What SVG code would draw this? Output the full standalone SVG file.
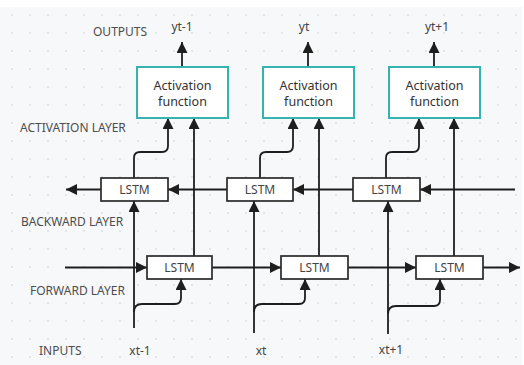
<svg xmlns="http://www.w3.org/2000/svg" width="524" height="365" viewBox="0 0 524 365">
<defs>
<pattern id="dots" x="3" y="6" width="18" height="18" patternUnits="userSpaceOnUse">
<circle cx="9" cy="9" r="0.8" fill="#c9ccd1"/>
</pattern>
<marker id="ah" markerUnits="userSpaceOnUse" markerWidth="11" markerHeight="11" viewBox="0 0 10 10" refX="10" refY="5" orient="auto">
<path d="M0,0 L10,5 L0,10 z" fill="#1e1e1e"/>
</marker>
<style>
.lbl{font-family:"Noto Sans","Open Sans",sans-serif;font-size:12px;fill:#4d4d4d;}
.io{font-family:"Noto Sans","Open Sans",sans-serif;font-size:12px;fill:#444;text-anchor:middle;}
.act rect{fill:#fff;stroke:#35b3b0;stroke-width:2;}
.act text{font-family:"Noto Sans","Open Sans",sans-serif;font-size:12.5px;fill:#333;text-anchor:middle;}
.lstm rect{fill:#fff;stroke:#2a2a2a;stroke-width:1.7;}
.lstm text{font-family:"Noto Sans","Open Sans",sans-serif;font-size:12px;fill:#444;text-anchor:middle;}
#connectors path{fill:none;stroke:#1e1e1e;stroke-width:1.8;}
.ar{marker-end:url(#ah);}
</style>
</defs>
<rect x="0" y="0" width="524" height="365" fill="#ffffff"/>
<rect x="0" y="7" width="522" height="358" fill="#f7f8fa"/>
<rect x="0" y="7" width="522" height="358" fill="url(#dots)"/>

<g id="connectors">
<!-- outputs -->
<path class="ar" d="M182,67 V42"/>
<path class="ar" d="M308,67 V42"/>
<path class="ar" d="M434,67 V42"/>
<!-- backward to activation (curved) -->
<path class="ar" d="M134,178 V158 Q134,152 140,152 H162 Q168,152 168,146 V118"/>
<path class="ar" d="M260,178 V158 Q260,152 266,152 H287 Q293,152 293,146 V118"/>
<path class="ar" d="M386,178 V158 Q386,152 392,152 H413 Q419,152 419,146 V118"/>
<!-- forward to activation (straight) -->
<path class="ar" d="M194,256 V118"/>
<path class="ar" d="M319,256 V118"/>
<path class="ar" d="M454,256 V118"/>
<!-- backward chain -->
<path class="ar" d="M515,189.5 H420"/>
<path class="ar" d="M353,189.5 H293"/>
<path class="ar" d="M227,189.5 H168"/>
<path class="ar" d="M101,189.5 H66"/>
<!-- forward chain -->
<path class="ar" d="M65,267.5 H147"/>
<path class="ar" d="M212,267.5 H281"/>
<path class="ar" d="M348,267.5 H416"/>
<path class="ar" d="M483,267.5 H520"/>
<!-- inputs to backward -->
<path class="ar" d="M134,328 V201"/>
<path class="ar" d="M254,333 V201"/>
<path class="ar" d="M388,334 V201"/>
<!-- inputs to forward -->
<path class="ar" d="M134,312 Q134,304 142,304 H175 Q181,304 181,298 V279"/>
<path class="ar" d="M254,312 Q254,304 262,304 H299 Q305,304 305,298 V279"/>
<path class="ar" d="M388,314 Q388,306 396,306 H434 Q440,306 440,300 V279"/>
</g>

<g id="act1" class="act"><rect x="137" y="67" width="91" height="51"/><text x="182.5" y="90">Activation</text><text x="182.5" y="106">function</text></g>
<g id="act2" class="act"><rect x="263" y="67" width="91" height="51"/><text x="308.5" y="90">Activation</text><text x="308.5" y="106">function</text></g>
<g id="act3" class="act"><rect x="389" y="67" width="91" height="51"/><text x="434.5" y="90">Activation</text><text x="434.5" y="106">function</text></g>

<g id="bwd1" class="lstm"><rect x="101" y="178" width="67" height="23"/><text x="134.5" y="194">LSTM</text></g>
<g id="bwd2" class="lstm"><rect x="227" y="178" width="66" height="23"/><text x="260" y="194">LSTM</text></g>
<g id="bwd3" class="lstm"><rect x="353" y="178" width="67" height="23"/><text x="386.5" y="194">LSTM</text></g>

<g id="fwd1" class="lstm"><rect x="147" y="256" width="65" height="23"/><text x="179.5" y="272">LSTM</text></g>
<g id="fwd2" class="lstm"><rect x="281" y="256" width="67" height="23"/><text x="314.5" y="272">LSTM</text></g>
<g id="fwd3" class="lstm"><rect x="416" y="256" width="67" height="23"/><text x="449.5" y="272">LSTM</text></g>

<g id="labels">
<text class="lbl" x="93" y="36">OUTPUTS</text>
<text class="lbl" x="20" y="132">ACTIVATION LAYER</text>
<text class="lbl" x="21" y="226">BACKWARD LAYER</text>
<text class="lbl" x="30" y="295">FORWARD LAYER</text>
<text class="lbl" x="39" y="355">INPUTS</text>
<text class="io" x="182" y="31">yt-1</text>
<text class="io" x="304" y="31">yt</text>
<text class="io" x="437" y="31">yt+1</text>
<text class="io" x="140" y="355">xt-1</text>
<text class="io" x="261" y="355">xt</text>
<text class="io" x="391" y="354">xt+1</text>
</g>
</svg>
